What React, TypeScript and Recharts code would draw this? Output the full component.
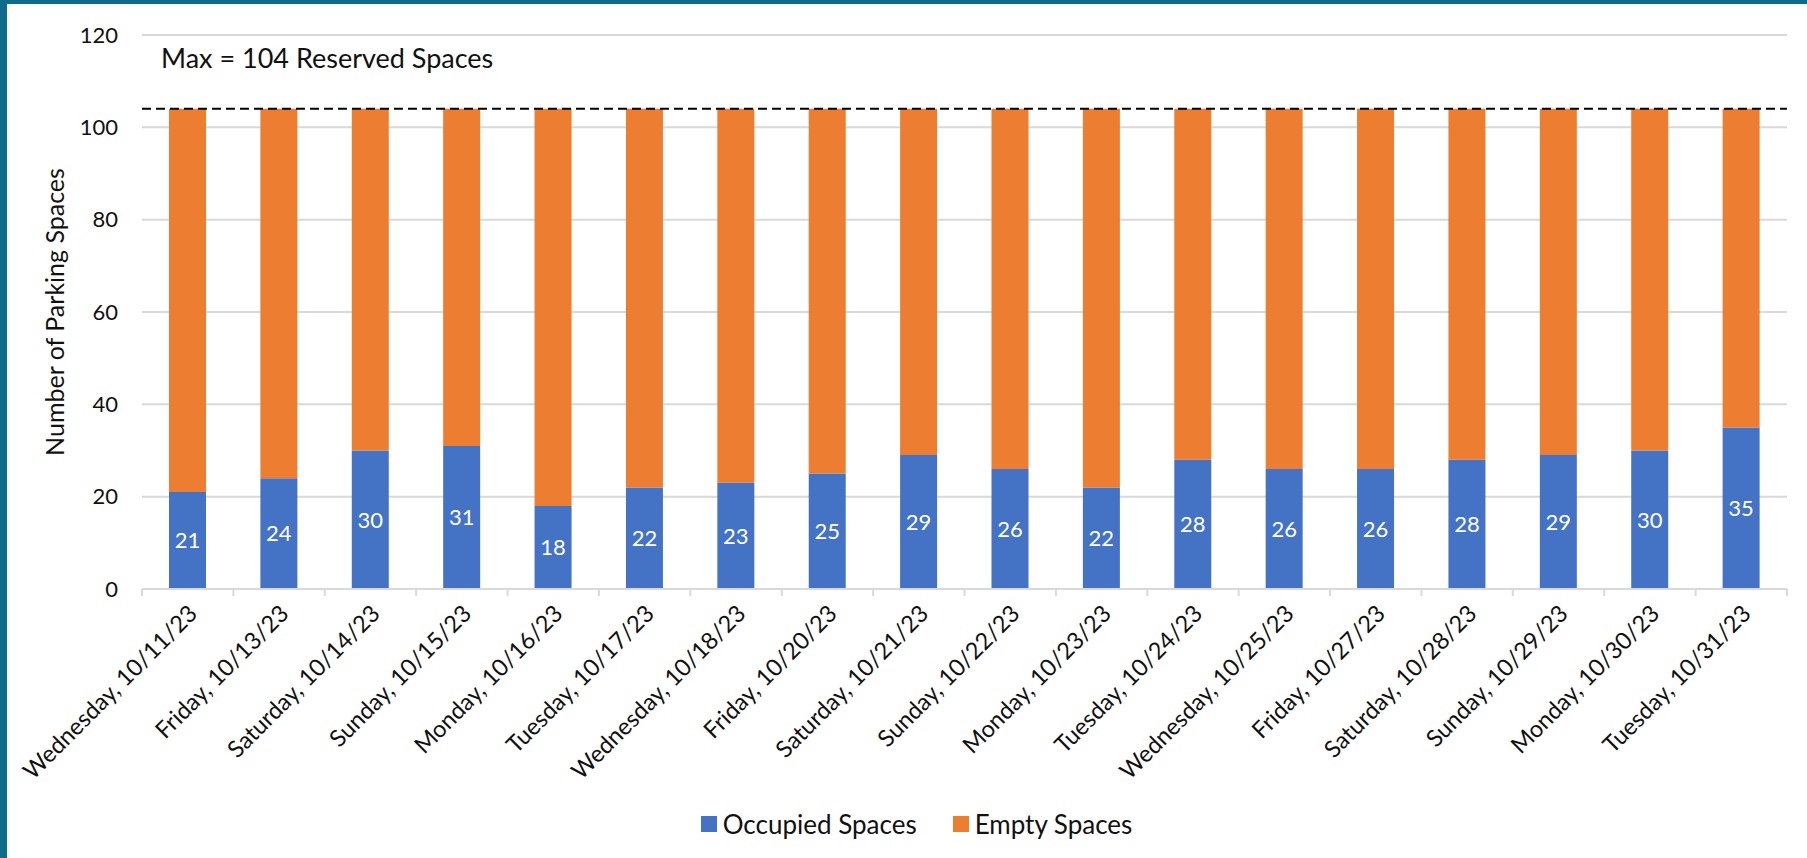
import React from "react";
import { BarChart, Bar, XAxis, YAxis, CartesianGrid, Legend, ReferenceLine, LabelList } from "recharts";

const days = [
  "Wednesday, 10/11/23", "Friday, 10/13/23", "Saturday, 10/14/23", "Sunday, 10/15/23",
  "Monday, 10/16/23", "Tuesday, 10/17/23", "Wednesday, 10/18/23", "Friday, 10/20/23",
  "Saturday, 10/21/23", "Sunday, 10/22/23", "Monday, 10/23/23", "Tuesday, 10/24/23",
  "Wednesday, 10/25/23", "Friday, 10/27/23", "Saturday, 10/28/23", "Sunday, 10/29/23",
  "Monday, 10/30/23", "Tuesday, 10/31/23",
];
const occupied = [21, 24, 30, 31, 18, 22, 23, 25, 29, 26, 22, 28, 26, 26, 28, 29, 30, 35];
const maxSpaces = 104;
const yTicks = [0, 20, 40, 60, 80, 100, 120];

const data = days.map((day, i) => ({
  day,
  occupied: occupied[i],
  empty: maxSpaces - occupied[i],
}));

const W = 1807;
const H = 858;
const margin = { top: 35, right: 20, left: 20, bottom: 10 };
const yAxisWidth = 122;
const plotWidth = W - margin.left - margin.right - yAxisWidth;
const band = plotWidth / days.length;
const font = "Lato, 'Noto Sans', sans-serif";

const XTick = (props: any) => {
  const { x, y, payload, index } = props;
  return (
    <g>
      <line x1={x - band / 2} x2={x - band / 2} y1={y} y2={y + 7} stroke="#d9d9d9" strokeWidth={2} />
      {index === days.length - 1 && (
        <line x1={x + band / 2} x2={x + band / 2} y1={y} y2={y + 7} stroke="#d9d9d9" strokeWidth={2} />
      )}
      <text
        x={x + 11}
        y={y + 26}
        transform={`rotate(-45, ${x + 11}, ${y + 26})`}
        textAnchor="end"
        fontSize={23.5}
        fontFamily={font}
        fill="#111"
      >
        {payload.value}
      </text>
    </g>
  );
};

const renderLegend = () => (
  <div style={{ display: "flex", justifyContent: "center", gap: 36, fontFamily: font, fontSize: 26, color: "#111", paddingLeft: 26 }}>
    {[
      { name: "Occupied Spaces", color: "#4472c4" },
      { name: "Empty Spaces", color: "#ed7d31" },
    ].map((e) => (
      <div key={e.name} style={{ display: "flex", alignItems: "center", gap: 6 }}>
        <span style={{ width: 16, height: 16, background: e.color, display: "inline-block" }} />
        <span>{e.name}</span>
      </div>
    ))}
  </div>
);

export default function App() {
  return (
    <div style={{ position: "absolute", left: 0, top: 0, width: W, height: H, background: "#fff", overflow: "hidden" }}>
      <div style={{ position: "absolute", left: 0, top: 0, width: W, height: 4, background: "#0e6b8c" }} />
      <div style={{ position: "absolute", left: 0, top: 0, width: 7, height: H, background: "#0e6b8c" }} />
      <BarChart width={W} height={H} data={data} margin={margin} barSize={37}>
        <CartesianGrid vertical={false} stroke="#d9d9d9" strokeWidth={2} />
        <XAxis
          dataKey="day"
          interval={0}
          height={219}
          tick={<XTick />}
          tickLine={false}
          tickSize={0}
          tickMargin={0}
          axisLine={{ stroke: "#d9d9d9", strokeWidth: 2 }}
        />
        <YAxis
          domain={[0, 120]}
          ticks={yTicks}
          width={yAxisWidth}
          axisLine={false}
          tickLine={false}
          tickMargin={18}
          tick={{ fontSize: 22, fontFamily: font, fill: "#111" }}
          label={{
            value: "Number of Parking Spaces",
            angle: -90,
            position: "center",
            dx: -26,
            style: { fontSize: 25, fontFamily: font, fill: "#111", textAnchor: "middle" },
          }}
        />
        <Legend verticalAlign="bottom" height={40} content={renderLegend} />
        <Bar dataKey="occupied" name="Occupied Spaces" stackId="a" fill="#4472c4" isAnimationActive={false}>
          <LabelList dataKey="occupied" position="center" fill="#fff" fontSize={22} fontFamily={font} />
        </Bar>
        <Bar dataKey="empty" name="Empty Spaces" stackId="a" fill="#ed7d31" isAnimationActive={false} />
        <ReferenceLine
          y={maxSpaces}
          stroke="#000"
          strokeWidth={2}
          strokeDasharray="9 5"
          label={(p: any) => (
            <text
              x={p.viewBox.x + 19}
              y={p.viewBox.y - 41}
              fontSize={27}
              fontFamily={font}
              fill="#111"
            >
              {`Max = ${maxSpaces} Reserved Spaces`}
            </text>
          )}
        />
      </BarChart>
    </div>
  );
}
